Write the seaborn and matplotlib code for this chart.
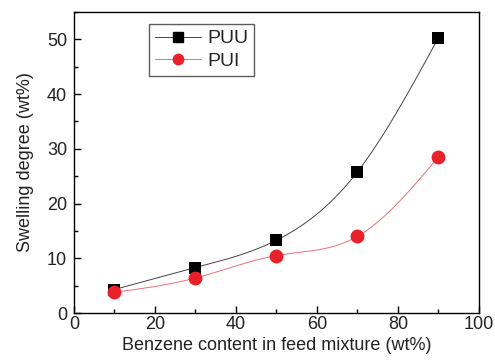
import numpy as np
import pandas as pd
import matplotlib
matplotlib.use("Agg")
import matplotlib.pyplot as plt
import seaborn as sns
from matplotlib.ticker import MultipleLocator

benzene = [10, 30, 50, 70, 90]
puu = [4.3, 8.3, 13.3, 25.8, 50.3]
pui = [3.8, 6.4, 10.5, 14.0, 28.5]
x_ticks = [0, 20, 40, 60, 80, 100]
y_ticks = [0, 10, 20, 30, 40, 50]

sns.set_theme(style="ticks")
plt.rcParams['font.family'] = ['Liberation Sans', 'DejaVu Sans']


def natural_spline(x, y, n=200):
    x = np.asarray(x, float); y = np.asarray(y, float)
    k = len(x); h = np.diff(x)
    A = np.zeros((k, k)); b = np.zeros(k)
    A[0, 0] = A[-1, -1] = 1
    for i in range(1, k - 1):
        A[i, i - 1] = h[i - 1]; A[i, i] = 2 * (h[i - 1] + h[i]); A[i, i + 1] = h[i]
        b[i] = 6 * ((y[i + 1] - y[i]) / h[i] - (y[i] - y[i - 1]) / h[i - 1])
    M = np.linalg.solve(A, b)
    xs = np.linspace(x[0], x[-1], n)
    idx = np.clip(np.searchsorted(x, xs) - 1, 0, k - 2)
    x0, x1 = x[idx], x[idx + 1]; hh = x1 - x0
    ys = (M[idx] * (x1 - xs) ** 3 / (6 * hh) + M[idx + 1] * (xs - x0) ** 3 / (6 * hh)
          + (y[idx] / hh - M[idx] * hh / 6) * (x1 - xs) + (y[idx + 1] / hh - M[idx + 1] * hh / 6) * (xs - x0))
    return xs, ys


fig = plt.figure(figsize=(4.95, 3.64), dpi=100)
ax = fig.add_axes([0.1495, 0.140, 0.818, 0.827])

red = '#e8212b'
for vals, color, lcolor, marker, ms, lms, name in [
        (puu, 'black', '#444444', 's', 9, 6.5, 'PUU'),
        (pui, red, '#e8707a', 'o', 10, 7.5, 'PUI')]:
    xs, ys = natural_spline(benzene, vals)
    sns.lineplot(x=xs, y=ys, ax=ax, color=lcolor, lw=0.7, estimator=None, sort=False)
    ax.plot([], [], color=lcolor, lw=0.7, marker=marker, ms=lms, mfc=color, mec=color, label=name)
    df = pd.DataFrame({'x': benzene, 'y': vals})
    sns.scatterplot(data=df, x='x', y='y', ax=ax, marker=marker, s=ms ** 2,
                    color=color, edgecolor=color, linewidth=0, zorder=3)

ax.set_xlim(0, 100)
ax.set_ylim(0, 55)
ax.set_xticks(x_ticks)
ax.set_yticks(y_ticks)
ax.xaxis.set_minor_locator(MultipleLocator(10))
ax.yaxis.set_minor_locator(MultipleLocator(5))
ax.tick_params(which='both', direction='in', labelsize=13, width=1, color='black', labelcolor='#222222')
ax.tick_params(which='major', length=5)
ax.tick_params(which='minor', length=3)
ax.tick_params(axis='x', which='major', pad=2)
ax.tick_params(axis='y', which='major', pad=5)
for s in ax.spines.values():
    s.set_linewidth(1.0)
    s.set_color('black')
ax.set_xlabel('Benzene content in feed mixture (wt%)', fontsize=13, color='#222222', labelpad=3)
ax.set_ylabel('Swelling degree (wt%)', fontsize=13, color='#222222', labelpad=9)

leg = ax.legend(loc='upper left', bbox_to_anchor=(0.185, 0.96), fontsize=14, frameon=True,
                fancybox=False, edgecolor='#333333', handlelength=2.4, handletextpad=0.3,
                borderpad=0.3, labelspacing=0.25, borderaxespad=0)
leg.get_frame().set_linewidth(1.0)

fig.savefig('out.png', dpi=100)
